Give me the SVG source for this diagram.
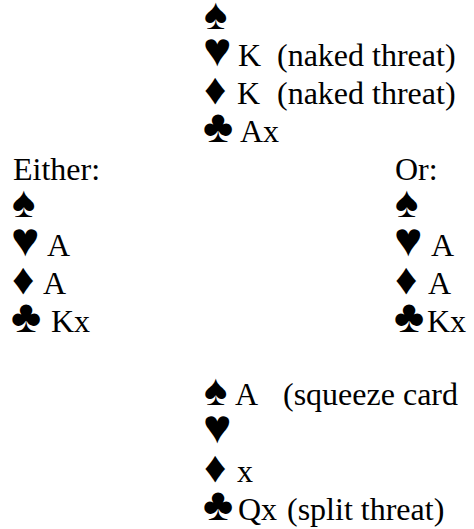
<svg xmlns="http://www.w3.org/2000/svg" width="474" height="529" viewBox="0 0 474 529">
<style>
text{font-family:"Liberation Serif","Times New Roman",serif;font-size:32px;fill:#000}
.s{font-size:44px}
.h{font-size:48px}
.c{font-size:46px}
</style>
<rect width="474" height="529" fill="#fff"/>
<g id="north">
<text class="s" x="204" y="29">♠</text>
<text class="s h" x="203" y="66">♥</text><text x="238" y="66">K</text><text x="277" y="66">(naked threat)</text>
<text class="s" x="204" y="104">♦</text><text x="237" y="104">K</text><text x="277" y="104">(naked threat)</text>
<text class="s c" x="203" y="142">♣</text><text x="240" y="142">Ax</text>
</g>
<g id="west">
<text x="13" y="180">Either:</text>
<text class="s" x="12" y="217">♠</text>
<text class="s h" x="11" y="256">♥</text><text x="47" y="256">A</text>
<text class="s" x="12" y="294">♦</text><text x="43" y="294">A</text>
<text class="s c" x="11" y="332">♣</text><text x="51" y="332">Kx</text>
</g>
<g id="east">
<text x="395" y="180">Or:</text>
<text class="s" x="395" y="217">♠</text>
<text class="s h" x="394" y="256">♥</text><text x="431" y="256">A</text>
<text class="s" x="395" y="294">♦</text><text x="428" y="294">A</text>
<text class="s c" x="394" y="332">♣</text><text x="427" y="332">Kx</text>
</g>
<g id="south">
<text class="s" x="204" y="405">♠</text><text x="235" y="405">A</text><text x="283" y="405">(squeeze card</text>
<text class="s h" x="203" y="443">♥</text>
<text class="s" x="204" y="482">♦</text><text x="237" y="482">x</text>
<text class="s c" x="203" y="520">♣</text><text x="238" y="520">Qx</text><text x="287" y="520">(split threat)</text>
</g>
<g id="connectors"></g>
</svg>
